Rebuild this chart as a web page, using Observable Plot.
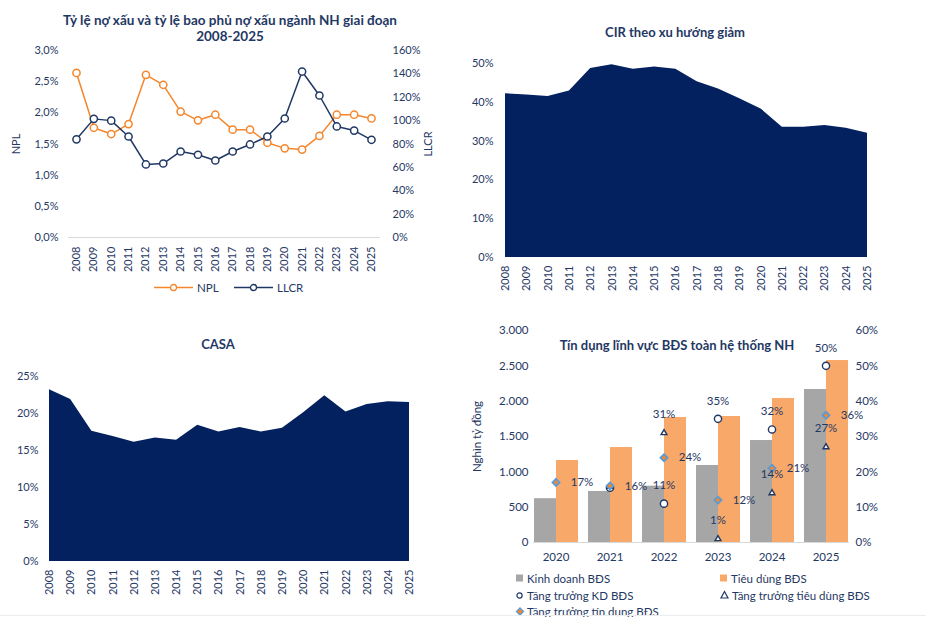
<!DOCTYPE html>
<html lang="vi">
<head>
<meta charset="utf-8">
<script src="https://cdn.jsdelivr.net/npm/d3@7"></script>
<script src="https://cdn.jsdelivr.net/npm/@observablehq/plot@0.6"></script>
<style>
html,body{margin:0;padding:0;background:#fff;}
body{width:926px;height:617px;position:relative;overflow:hidden;font-family:Lato,"Open Sans",sans-serif;color:#1F3864;}
.abs{position:absolute;}
.title{position:absolute;font-weight:700;font-size:13px;text-align:center;line-height:16px;color:#1F3864;white-space:nowrap;transform:translate(-50%,-50%);}
.leg{position:absolute;font-size:11.5px;white-space:nowrap;display:flex;align-items:center;gap:3px;transform:translateY(-50%);color:#1F3864;}
.leg svg{display:block;overflow:visible}
</style>
</head>
<body>
<div id="c1" class="abs" style="left:0;top:0"></div>
<div id="c2" class="abs" style="left:460px;top:0"></div>
<div id="c3" class="abs" style="left:0;top:320px"></div>
<div id="c4" class="abs" style="left:460px;top:320px"></div>

<div class="title" style="left:230px;top:28px;font-size:13.5px">Tỷ lệ nợ xấu và tỷ lệ bao phủ nợ xấu ngành NH giai đoạn<br>2008-2025</div>
<div class="title" style="left:675px;top:32px">CIR theo xu hướng giảm</div>
<div class="title" style="left:218px;top:344px">CASA</div>
<div class="title" style="left:677px;top:345px">Tín dụng lĩnh vực BĐS toàn hệ thống NH</div>

<div id="leg1"></div>
<div id="leg4"></div>
<div class="abs" style="left:0;top:615px;width:926px;height:1px;background:#EDEDED"></div>

<script>
// ---------- DATA ----------
const years = [2008,2009,2010,2011,2012,2013,2014,2015,2016,2017,2018,2019,2020,2021,2022,2023,2024,2025];
const npl  = [2.64,1.76,1.66,1.82,2.61,2.45,2.02,1.88,1.97,1.73,1.73,1.52,1.43,1.41,1.63,1.97,1.97,1.91]; // %
const llcr = [84,101.5,100,86.4,62.5,63.3,73.6,70.8,65.9,73.6,79.6,86.4,101.8,142,121.5,95,91.5,83.6]; // %
const cir  = [42.2,41.9,41.5,42.9,48.7,49.7,48.5,49.1,48.5,45.3,43.4,40.9,38.3,33.6,33.6,34.0,33.3,32.0]; // %
const casa = [23.2,21.9,17.6,16.9,16.1,16.7,16.4,18.4,17.5,18.1,17.5,18.0,20.1,22.4,20.2,21.2,21.6,21.5]; // %

const nplTicks  = [0,0.5,1,1.5,2,2.5,3];
const llcrTicks = [0,20,40,60,80,100,120,140,160];
const cirTicks  = [0,10,20,30,40,50];
const casaTicks = [0,5,10,15,20,25];

const bdsYears   = ["2020","2021","2022","2023","2024","2025"];
const kdBds      = [620,722,797,1090,1443,2165];   // nghìn tỷ đồng
const tdBds      = [1160,1344,1769,1783,2038,2575];
const kdGrowth   = [null,15.5,11,35,32,50];        // %
const tdGrowth   = [null,15.8,31,1,14,27];
const creditGrowth = [17,16,24,12,21,36];
const hiddenLabelYears = ["2021"];
const bdsTicksLeft  = [0,500,1000,1500,2000,2500,3000];
const bdsTicksRight = [0,10,20,30,40,50,60];
const barTypes = ["Kinh doanh BĐS","Tiêu dùng BĐS"];

// ---------- STYLE ----------
const NAVY = "#1F3864";
const AREA = "#03215E";
const ORANGE = "#F5862B";
const BAR_GRAY = "#A6A6A6";
const BAR_ORANGE = "#F8A96A";
const DIAMOND_BLUE = "#5B9BD5";
const FONT = "Lato, 'Open Sans', sans-serif";
const baseStyle = {fontFamily: FONT, fontSize: "11px", color: NAVY, background: "transparent", overflow: "visible"};
const fmtComma = d => d.toFixed(1).replace(".", ",") + "%";
const fmtPct = d => Math.round(d) + "%";
const fmtThousands = d => d3.format(",")(d).replace(/,/g, ".");

// ---------- CHART 1 ----------
const llcrScale = 3 / 160;
const nplData = years.map((y, i) => ({year: y, npl: npl[i], llcr: llcr[i] * llcrScale}));
const c1 = Plot.plot({
  width: 460, height: 300,
  marginLeft: 68, marginRight: 80, marginTop: 50, marginBottom: 63,
  style: baseStyle,
  x: {domain: [2008, 2025], insetLeft: 8, insetRight: 9},
  y: {domain: [0, 3]},
  marks: [
    Plot.ruleY([0], {stroke: "#D9D9D9"}),
    Plot.axisX({ticks: years, tickFormat: d => String(d), tickRotate: -90, tickSize: 0, tickPadding: 9, label: null}),
    Plot.axisY({ticks: nplTicks, tickFormat: fmtComma, tickSize: 0, tickPadding: 10,
      label: "NPL", labelAnchor: "center", labelArrow: "none", labelOffset: 56}),
    Plot.axisY({anchor: "right", ticks: llcrTicks.map(v => v * llcrScale), tickFormat: v => fmtPct(v / llcrScale),
      tickSize: 0, tickPadding: 12, label: "LLCR", labelAnchor: "center", labelArrow: "none", labelOffset: 51}),
    Plot.line(nplData, {x: "year", y: "npl", stroke: ORANGE, strokeWidth: 1.5}),
    Plot.dot(nplData, {x: "year", y: "npl", r: 3.6, fill: "white", stroke: ORANGE, strokeWidth: 1.5}),
    Plot.line(nplData, {x: "year", y: "llcr", stroke: NAVY, strokeWidth: 1.5}),
    Plot.dot(nplData, {x: "year", y: "llcr", r: 3.6, fill: "white", stroke: NAVY, strokeWidth: 1.5})
  ]
});
document.getElementById("c1").append(c1);

// ---------- CHART 2 ----------
const cirData = years.map((y, i) => ({year: y, v: cir[i]}));
const c2 = Plot.plot({
  width: 466, height: 300,
  marginLeft: 45, marginRight: 59, marginTop: 63, marginBottom: 43,
  style: baseStyle,
  x: {domain: [2008, 2025]},
  y: {domain: [0, 50]},
  marks: [
    Plot.areaY(cirData, {x: "year", y: "v", fill: AREA}),
    Plot.axisX({ticks: years, tickFormat: d => String(d), tickRotate: -90, tickSize: 0, tickPadding: 8, label: null}),
    Plot.axisY({ticks: cirTicks, tickFormat: fmtPct, tickSize: 0, tickPadding: 12, label: null})
  ]
});
document.getElementById("c2").append(c2);

// ---------- CHART 3 ----------
const casaData = years.map((y, i) => ({year: y, v: casa[i]}));
const c3 = Plot.plot({
  width: 460, height: 297,
  marginLeft: 49, marginRight: 51, marginTop: 56, marginBottom: 56,
  style: baseStyle,
  x: {domain: [2008, 2025]},
  y: {domain: [0, 25]},
  marks: [
    Plot.areaY(casaData, {x: "year", y: "v", fill: AREA}),
    Plot.axisX({ticks: years, tickFormat: d => String(d), tickRotate: -90, tickSize: 0, tickPadding: 8, label: null}),
    Plot.axisY({ticks: casaTicks, tickFormat: fmtPct, tickSize: 0, tickPadding: 11, label: null})
  ]
});
document.getElementById("c3").append(c3);

// ---------- CHART 4 ----------
const growthScale = 3000 / 60;
const bars = bdsYears.flatMap((y, i) => [
  {year: y, type: barTypes[0], v: kdBds[i]},
  {year: y, type: barTypes[1], v: tdBds[i]}
]);
const growth = bdsYears.map((y, i) => ({
  year: y,
  kd: kdGrowth[i] == null ? null : kdGrowth[i] * growthScale, kdRaw: kdGrowth[i],
  td: tdGrowth[i] == null ? null : tdGrowth[i] * growthScale, tdRaw: tdGrowth[i],
  cr: creditGrowth[i] * growthScale, crRaw: creditGrowth[i]
}));
const labelled = growth.filter(d => !hiddenLabelYears.includes(d.year));
const c4 = Plot.plot({
  width: 466, height: 250,
  marginLeft: 62, marginRight: 67, marginTop: 10, marginBottom: 28,
  style: {...baseStyle, fontSize: "11.5px"},
  fx: {domain: bdsYears, paddingInner: 0.17, paddingOuter: 0.17, label: null},
  x: {domain: barTypes, padding: 0, axis: null},
  y: {domain: [0, 3000]},
  color: {domain: barTypes, range: [BAR_GRAY, BAR_ORANGE]},
  marks: [
    Plot.barY(bars, {fx: "year", x: "type", y: "v", fill: "type"}),
    Plot.frame({anchor: "bottom", stroke: "#D9D9D9", facet: "super"}),
    Plot.axisFx({anchor: "bottom", tickSize: 0, tickPadding: 10, label: null}),
    Plot.axisY({ticks: bdsTicksLeft, tickFormat: fmtThousands, tickSize: 0, tickPadding: 5,
      label: "Nghìn tỷ đồng", labelAnchor: "center", labelArrow: "none", labelOffset: 61}),
    Plot.axisY({anchor: "right", ticks: bdsTicksRight.map(v => v * growthScale), tickFormat: v => fmtPct(v / growthScale),
      tickSize: 0, tickPadding: 7, label: null}),
    Plot.dot(growth.filter(d => d.kd != null), {fx: "year", y: "kd", r: 3.6, fill: "white", stroke: NAVY, strokeWidth: 1.4}),
    Plot.dot(growth.filter(d => d.td != null), {fx: "year", y: "td", symbol: "triangle2", r: 2.8, fill: "white", stroke: NAVY, strokeWidth: 1.4}),
    Plot.dot(growth, {fx: "year", y: "cr", symbol: "diamond2", r: 3.2, fill: ORANGE, stroke: DIAMOND_BLUE, strokeWidth: 1.8}),
    Plot.text(labelled.filter(d => d.kd != null), {fx: "year", y: "kd", text: d => fmtPct(d.kdRaw), dy: -18, fill: NAVY}),
    Plot.text(labelled.filter(d => d.td != null), {fx: "year", y: "td", text: d => fmtPct(d.tdRaw), dy: -19, fill: NAVY}),
    Plot.text(growth, {fx: "year", y: "cr", text: d => fmtPct(d.crRaw), dx: 26, fill: NAVY})
  ]
});
document.getElementById("c4").append(c4);

// ---------- LEGENDS ----------
function legendItem(parent, left, top, iconSvg, label) {
  const d = document.createElement("div");
  d.className = "leg";
  d.style.left = left + "px";
  d.style.top = top + "px";
  d.innerHTML = iconSvg + "<span>" + label + "</span>";
  document.getElementById(parent).append(d);
}
const lineIcon = c => `<svg width="40" height="10"><line x1="0" y1="5" x2="39" y2="5" stroke="${c}" stroke-width="1.5"/><circle cx="19.5" cy="5" r="3" fill="white" stroke="${c}" stroke-width="1.3"/></svg>`;
legendItem("leg1", 154, 287, lineIcon(ORANGE), "NPL");
legendItem("leg1", 234, 287, lineIcon(NAVY), "LLCR");

const sq = c => `<svg width="8" height="8"><rect x="0" y="0" width="7" height="7" fill="${c}"/></svg>`;
const circ = `<svg width="8" height="8"><circle cx="3.5" cy="4" r="2.6" fill="white" stroke="${NAVY}" stroke-width="1.2"/></svg>`;
const tri = `<svg width="9" height="9"><path d="M4.5 1 L8 7.5 L1 7.5 Z" fill="white" stroke="${NAVY}" stroke-width="1.2"/></svg>`;
const dia = `<svg width="8" height="8"><path d="M4 0.5 L7.5 4 L4 7.5 L0.5 4 Z" fill="${ORANGE}" stroke="${DIAMOND_BLUE}" stroke-width="1.3"/></svg>`;
legendItem("leg4", 516, 578, sq(BAR_GRAY), barTypes[0]);
legendItem("leg4", 720, 578, sq(BAR_ORANGE), barTypes[1]);
legendItem("leg4", 516, 595, circ, "Tăng trưởng KD BĐS");
legendItem("leg4", 720, 595, tri, "Tăng trưởng tiêu dùng BĐS");
legendItem("leg4", 516, 611, dia, "Tăng trưởng tín dụng BĐS");
</script>
</body>
</html>
